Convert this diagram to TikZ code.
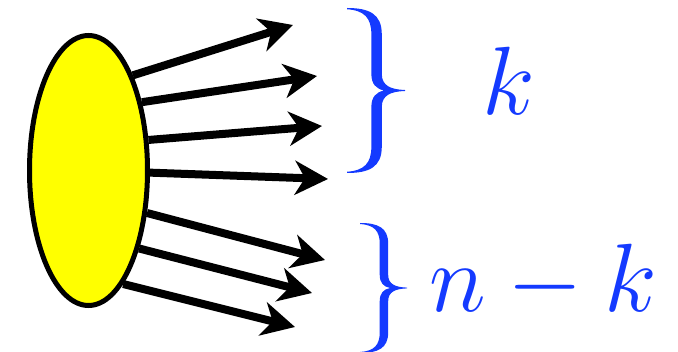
\documentclass[tikz,border=0pt]{standalone}
\usepackage{xcolor}
\usetikzlibrary{arrows.meta,shapes.geometric}

\definecolor{braceblue}{RGB}{20,58,255}
\definecolor{blobyellow}{RGB}{255,255,0}
% filled curly brace: left x, centre y, width, height
\newcommand{\bracefill}[4]{%
    \fill[braceblue,shift={(#1,#2)},xscale=#3,yscale=0.5*#4]
        (0,1) .. controls (0.38,1) and (0.6,0.93) .. (0.6,0.68)
        -- (0.6,0.2) .. controls (0.6,0.06) and (0.75,0.012) .. (1,0.006)
        -- (1,-0.006) .. controls (0.75,-0.012) and (0.6,-0.06) .. (0.6,-0.2)
        -- (0.6,-0.68) .. controls (0.6,-0.93) and (0.38,-1) .. (0,-1)
        -- (0,-0.985) .. controls (0.3,-0.97) and (0.42,-0.88) .. (0.42,-0.68)
        -- (0.42,-0.2) .. controls (0.42,-0.08) and (0.5,-0.02) .. (0.64,0)
        .. controls (0.5,0.02) and (0.42,0.08) .. (0.42,0.2)
        -- (0.42,0.68) .. controls (0.42,0.88) and (0.3,0.97) .. (0,0.985)
        -- cycle;}

\tikzset{
  blob/.style={ellipse,draw,line width=5pt,fill=blobyellow,minimum width=118pt,minimum height=270pt,inner sep=0pt},
  ray/.style={line width=8pt,-{Stealth[length=33pt,width=34pt,inset=10pt]}},
  lbl/.style={text=braceblue,font=\Huge,scale=3.9,inner sep=0pt}
}

\begin{document}
\begin{tikzpicture}[x=1pt,y=-1pt]
    \useasboundingbox (0,0) rectangle (678,352);
    % source
    \node[blob] (src) at (88.5,170.5) {};

    % arrow tips
    \coordinate (t1) at (293,25);
    \coordinate (t2) at (317,76);
    \coordinate (t3) at (322,126);
    \coordinate (t4) at (328,179);
    \coordinate (t5) at (325,260);
    \coordinate (t6) at (312,293);
    \coordinate (t7) at (295,327);

    % outgoing arrows
    \foreach \a/\t in {65/t1,52/t2,27/t3,358/t4,324/t5,303/t6,287/t7} {
        \draw[ray] (src.\a) -- (\t);
    }

    % braces and labels
    \bracefill{347}{90.5}{58}{165}
    \bracefill{360}{288}{47}{130}
    \node[lbl,anchor=base] (k) at (509,115) {$k$};
    \node[lbl,anchor=base] (nk) at (543,312) {$n-k$};
\end{tikzpicture}
\end{document}
